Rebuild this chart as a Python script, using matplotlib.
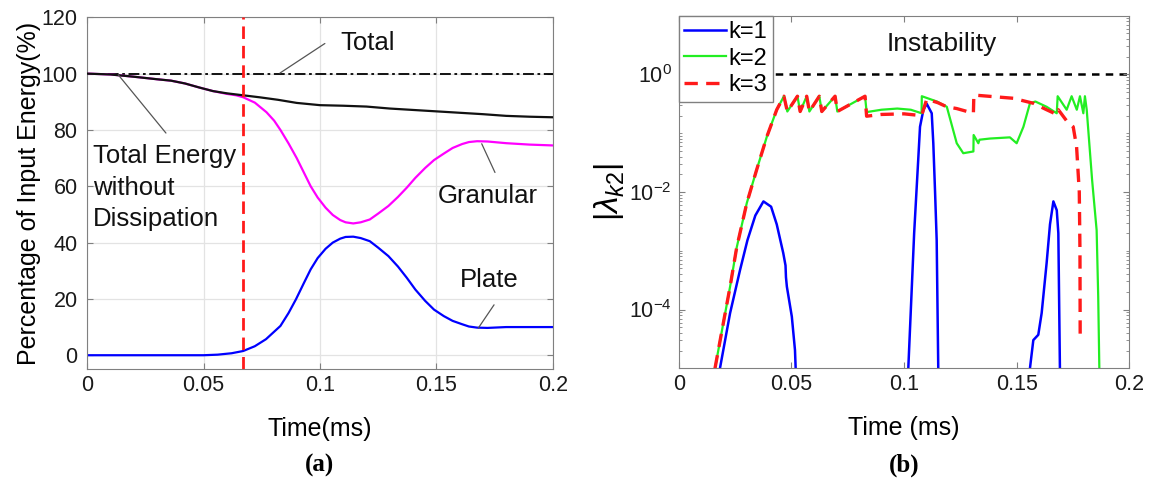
import numpy as np
import matplotlib
matplotlib.use('Agg')
import matplotlib.pyplot as plt
from matplotlib.ticker import LogLocator, FixedLocator, NullFormatter

plt.rcParams['font.family'] = ['Liberation Sans', 'DejaVu Sans']
plt.rcParams['mathtext.fontset'] = 'custom'
plt.rcParams['mathtext.rm'] = 'Liberation Sans'
plt.rcParams['mathtext.it'] = 'Liberation Sans:italic'

# ---- panel (a): energy fractions (%) ----
t_total = [0, 0.2]
e_total = [100, 100]

t_nodiss = [0, 0.01, 0.02, 0.03, 0.036, 0.042, 0.048, 0.054, 0.06, 0.067, 0.074,
            0.082, 0.09, 0.1, 0.11, 0.12, 0.13, 0.14, 0.15, 0.16, 0.17, 0.18, 0.19, 0.2]
e_nodiss = [100, 99.7, 98.9, 98.0, 97.5, 96.5, 95.1, 93.8, 93.0, 92.3, 91.6,
            90.7, 89.6, 88.8, 88.6, 88.3, 87.6, 87.1, 86.6, 86.1, 85.6, 85.0, 84.7, 84.5]

t_gran = [0, 0.01, 0.02, 0.03, 0.036, 0.042, 0.048, 0.054, 0.06, 0.064, 0.067, 0.072,
          0.077, 0.0803, 0.083, 0.0865, 0.09, 0.093, 0.096, 0.099, 0.1024, 0.1055,
          0.1087, 0.111, 0.1143, 0.1175, 0.1214, 0.125, 0.1294, 0.1335, 0.1373, 0.141,
          0.1452, 0.149, 0.1532, 0.157, 0.1611, 0.164, 0.1675, 0.172, 0.18, 0.19, 0.2]
e_gran = [100, 99.7, 98.9, 98.0, 97.5, 96.5, 95.1, 93.8, 92.8, 92.3, 91.6, 89.7,
          86.3, 83.3, 80.0, 75.2, 70.0, 65.0, 60.0, 56.0, 52.4, 49.8,
          48.0, 47.2, 46.8, 47.2, 48.2, 50.3, 53.0, 56.2, 59.5, 63.0,
          66.5, 69.3, 71.6, 73.6, 75.0, 75.7, 76.0, 75.9, 75.3, 74.8, 74.5]

t_plate = [0, 0.05, 0.056, 0.062, 0.067, 0.072, 0.0768, 0.083, 0.0865, 0.0897, 0.093,
           0.096, 0.099, 0.1024, 0.1055, 0.1087, 0.111, 0.1143, 0.1175, 0.1214, 0.125,
           0.1294, 0.1335, 0.1373, 0.141, 0.1452, 0.149, 0.1532, 0.157, 0.1611, 0.164,
           0.1675, 0.172, 0.18, 0.2]
e_plate = [0, 0, 0.2, 0.7, 1.5, 3.2, 5.7, 10.4, 15.0, 19.9, 25.5,
           30.5, 34.5, 37.8, 40.0, 41.4, 42.0, 42.1, 41.6, 40.5, 38.2,
           35.2, 31.5, 27.5, 23.3, 19.3, 16.2, 13.9, 12.2, 11.0, 10.2,
           9.8, 9.7, 10.0, 10.0]

t_onset = 0.067

# ---- panel (b): log10 |lambda_k2| ----
t_k1 = [0.0183, 0.0228, 0.0272, 0.0305, 0.034, 0.0376, 0.041, 0.0435, 0.0464, 0.0474,
        0.0476, 0.048, 0.0502, 0.0516, 0.0519, np.nan,
        0.1019, 0.1045, 0.1063, 0.1071, 0.1086, 0.1101, 0.1123, 0.113, 0.1138, 0.1145,
        0.1152, np.nan,
        0.1559, 0.1574, 0.1596, 0.1611, 0.1633, 0.1648, 0.1663, 0.1672, 0.1678, 0.1685,
        0.1692]
lg_k1 = [-5, -4.06, -3.33, -2.82, -2.4, -2.16, -2.25, -2.55, -3.04, -3.25,
         -3.45, -3.61, -4.12, -4.69, -5, np.nan,
         -5, -2.7, -1.455, -0.89, -0.6, -0.5, -0.66, -1.17, -2.02, -2.82,
         -5, np.nan,
         -5, -4.52, -4.43, -4.06, -3.21, -2.55, -2.16, -2.25, -2.31, -2.7,
         -5]

t_k2 = [0.0161, 0.0198, 0.0228, 0.0257, 0.0302, 0.0346, 0.0391, 0.0435, 0.0467,
        0.0482, 0.0527, 0.0539, 0.0568, 0.058, 0.0624, 0.0635, 0.0694, 0.0704, 0.0827,
        0.0834, 0.09, 0.097, 0.103, 0.1078, 0.1079, 0.1146, 0.119, 0.1234, 0.1263,
        0.1308, 0.1309, 0.133, 0.1335, 0.1382, 0.147, 0.15, 0.153, 0.1559, 0.1583,
        0.1633, 0.1678, 0.1682, 0.1722, 0.1744, 0.1767, 0.1781, 0.1796, 0.1803,
        0.1811, 0.1835, 0.1855, 0.1862, 0.1867]
lg_k2 = [-5, -4.23, -3.61, -2.95, -2.19, -1.62, -1.06, -0.6, -0.37,
         -0.63, -0.37, -0.63, -0.37, -0.63, -0.37, -0.63, -0.37, -0.63, -0.37,
         -0.64, -0.6, -0.58, -0.6, -0.66, -0.37, -0.46, -0.55, -1.17, -1.34,
         -1.31, -1.03, -1.17, -1.11, -1.09, -1.07, -1.17, -0.89, -0.49, -0.46,
         -0.55, -0.66, -0.37, -0.6, -0.37, -0.6, -0.37, -0.66, -0.37,
         -0.6, -1.8, -2.65, -3.78, -5]

t_k3 = [0.0161, 0.0198, 0.0228, 0.0257, 0.0302, 0.0346, 0.0391, 0.0435, 0.0467,
        0.0482, 0.0527, 0.0539, 0.0568, 0.058, 0.0624, 0.0635, 0.0694, 0.0704, 0.0827,
        0.0834, 0.09, 0.1, 0.1078, 0.1101, 0.115, 0.119, 0.1234, 0.1308, 0.131,
        0.1485, 0.1574, 0.1633, 0.1678, 0.1685, 0.1722, 0.1751, 0.1766, 0.1778,
        0.1781, 0.1782]
lg_k3 = [-5, -4.23, -3.61, -2.95, -2.19, -1.62, -1.06, -0.6, -0.37,
         -0.63, -0.37, -0.63, -0.37, -0.63, -0.37, -0.63, -0.37, -0.63, -0.37,
         -0.71, -0.68, -0.67, -0.7, -0.42, -0.48, -0.55, -0.58, -0.66, -0.35,
         -0.405, -0.49, -0.6, -0.68, -0.6, -0.79, -0.89, -1.23, -2.0,
         -3.0, -4.5]

lam_limit = 1.0

grey = '#808080'
tick_fs = 15.5
lab_fs = 18
fig = plt.figure(figsize=(11.5, 4.82), dpi=100)

# ---------------- (a) ----------------
ax1 = fig.add_axes([0.0759, 0.2338, 0.4047, 0.7303])
ax1.plot(t_total, e_total, color='black', lw=1.3, ls=(0, (6, 2, 1.5, 2)))
ax1.plot(t_nodiss, e_nodiss, color='#111111', lw=1.6, zorder=3)
ax1.plot(t_gran, e_gran, color='#ff00ff', lw=1.6, zorder=2)
ax1.plot(t_plate, e_plate, color='#0000ff', lw=1.6)
ax1.axvline(t_onset, color='#ff1a1a', lw=2, ls=(0, (4.5, 2.5)), zorder=4)

ax1.set_xlim(0, 0.2)
ax1.set_ylim(-5, 120)
ax1.set_xticks([0, 0.05, 0.1, 0.15, 0.2])
ax1.set_xticklabels(['0', '0.05', '0.1', '0.15', '0.2'])
ax1.set_yticks(np.arange(0, 121, 20))
ax1.grid(True, color='#e3e3e3', lw=0.9)
ax1.set_axisbelow(True)
ax1.tick_params(direction='in', top=True, right=True, labelsize=tick_fs, color=grey,
                length=4, labelcolor='#1a1a1a')
ax1.tick_params(axis='x', pad=4)
ax1.tick_params(axis='y', pad=7)
for s in ax1.spines.values():
    s.set_color(grey)
ax1.set_xlabel('Time(ms)', fontsize=lab_fs, labelpad=15)
ax1.set_ylabel('Percentage of Input Energy(%)', fontsize=lab_fs, labelpad=0)

ann = dict(fontsize=18.5, color='#111111')
line_kw = dict(arrowstyle='-', color='#555555', lw=0.9, shrinkA=0, shrinkB=0)
ax1.annotate('', xy=(0.0828, 100.2), xytext=(0.1021, 110.7), arrowprops=line_kw)
ax1.text(0.1086, 110.7, 'Total', va='center', ha='left', **ann)
ax1.annotate('', xy=(0.0133, 99.6), xytext=(0.0338, 78.9), arrowprops=line_kw)
ax1.text(0.0026, 59.5, 'Total Energy\nwithout\nDissipation', va='center', ha='left',
         linespacing=1.4, **ann)
ax1.annotate('', xy=(0.1695, 75.1), xytext=(0.1752, 64.9), arrowprops=line_kw)
ax1.text(0.1507, 56.4, 'Granular', va='center', ha='left', **ann)
ax1.annotate('', xy=(0.168, 9.6), xytext=(0.1748, 17.9), arrowprops=line_kw)
ax1.text(0.1602, 26.8, 'Plate', va='center', ha='left', **ann)

# ---------------- (b) ----------------
ax2 = fig.add_axes([0.5902, 0.2359, 0.3918, 0.7315])
ax2.plot(t_k1, 10 ** np.array(lg_k1), color='#0000ff', lw=1.8, label='k=1')
ax2.plot(t_k2, 10 ** np.array(lg_k2), color='#22ee22', lw=1.6, label='k=2')
ax2.plot(t_k3, 10 ** np.array(lg_k3), color='#ff1a1a', lw=2.4, ls=(0, (4, 2.5)),
         label='k=3')
ax2.axhline(lam_limit, color='black', lw=1.8, ls=(0, (3, 2.5)), zorder=1)

ax2.set_yscale('log')
ax2.set_xlim(0, 0.2)
ax2.set_ylim(1e-5, 1e1)
ax2.set_xticks([0, 0.05, 0.1, 0.15, 0.2])
ax2.set_xticklabels(['0', '0.05', '0.1', '0.15', '0.2'])
ax2.yaxis.set_major_locator(FixedLocator([1e-4, 1e-2, 1e0]))
ax2.yaxis.set_minor_locator(LogLocator(base=10, subs=np.arange(1, 10), numticks=20))
ax2.yaxis.set_minor_formatter(NullFormatter())
ax2.set_yticklabels([r'$10^{-4}$', r'$10^{-2}$', r'$10^{0}$'])
ax2.tick_params(direction='in', top=True, right=True, labelsize=tick_fs, color=grey,
                length=4, labelcolor='#1a1a1a')
ax2.tick_params(which='minor', direction='in', right=True, left=True, color=grey,
                length=2)
ax2.tick_params(axis='x', pad=4)
ax2.tick_params(axis='y', pad=5)
for s in ax2.spines.values():
    s.set_color(grey)
ax2.set_xlabel('Time (ms)', fontsize=lab_fs, labelpad=15)
ax2.set_ylabel(r'$\left|\lambda_{k2}\right|$', fontsize=24, labelpad=2)
ax2.text(0.1169, 3.3, 'Instability', fontsize=19, ha='center', va='center',
         color='#111111')
leg = ax2.legend(loc='upper left', fontsize=17, frameon=True, fancybox=False,
                 borderaxespad=0, handlelength=1.8, handletextpad=0.1,
                 borderpad=0.22, labelspacing=0.2)
leg.get_frame().set_edgecolor(grey)
leg.get_frame().set_linewidth(1.0)
leg.get_frame().set_alpha(1)

fig.text(0.278, 0.035, '(a)', fontsize=18, fontweight='bold',
         family='Liberation Serif', ha='center', va='center')
fig.text(0.786, 0.035, '(b)', fontsize=18, fontweight='bold',
         family='Liberation Serif', ha='center', va='center')

fig.savefig('out.png', dpi=100)
